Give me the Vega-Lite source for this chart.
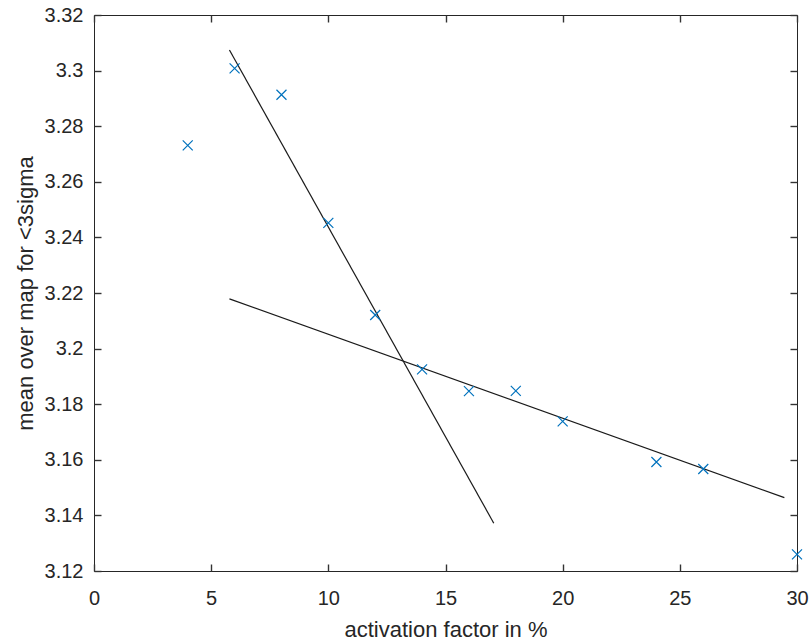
{
  "$schema": "https://vega.github.io/schema/vega-lite/v6.json",
  "width": 703,
  "height": 556,
  "autosize": {"type": "none"},
  "padding": {"left": 94, "top": 15, "right": 14, "bottom": 72},
  "background": "white",
  "datasets": {
    "pts": [
      {"x": 4, "y": 3.2731},
      {"x": 6, "y": 3.3008},
      {"x": 8, "y": 3.2913},
      {"x": 10, "y": 3.2452},
      {"x": 12, "y": 3.2121},
      {"x": 14, "y": 3.1925},
      {"x": 16, "y": 3.1847},
      {"x": 18, "y": 3.1848},
      {"x": 20, "y": 3.1738},
      {"x": 24, "y": 3.1592},
      {"x": 26, "y": 3.1567},
      {"x": 30, "y": 3.126}
    ],
    "fits": [
      {"line": "a", "x": 5.78, "y": 3.3074},
      {"line": "a", "x": 17.06, "y": 3.1372},
      {"line": "b", "x": 5.78, "y": 3.2179},
      {"line": "b", "x": 29.46, "y": 3.1464}
    ]
  },
  "layer": [
    {
      "data": {"name": "fits"},
      "mark": {"type": "line", "color": "#1a1a1a", "strokeWidth": 1.2},
      "encoding": {
        "x": {
          "field": "x", "type": "quantitative",
          "scale": {"domain": [0, 30], "nice": false, "zero": false},
          "axis": {"orient": "top", "labels": false, "title": null, "domain": false, "values": [0, 5, 10, 15, 20, 25, 30], "tickSize": 7, "offset": -7, "tickWidth": 1.4, "tickColor": "#333333"}
        },
        "y": {
          "field": "y", "type": "quantitative",
          "scale": {"domain": [3.12, 3.32], "nice": false, "zero": false},
          "axis": {"orient": "right", "labels": false, "title": null, "domain": false, "values": [3.12, 3.14, 3.16, 3.18, 3.2, 3.22, 3.24, 3.26, 3.28, 3.3, 3.32], "tickSize": 7, "offset": -7, "tickWidth": 1.4, "tickColor": "#333333"}
        },
        "detail": {"field": "line"}
      }
    },
    {
      "data": {"name": "pts"},
      "mark": {"type": "point", "shape": "M-1,-1L1,1M-1,1L1,-1", "filled": false, "color": "#0072BD", "strokeWidth": 1.2, "size": 100, "opacity": 0},
      "encoding": {
        "x": {
          "field": "x", "type": "quantitative",
          "scale": {"domain": [0, 30], "nice": false, "zero": false},
          "axis": {"orient": "bottom", "labels": false, "title": null, "domain": false, "values": [0, 5, 10, 15, 20, 25, 30], "tickSize": 7, "offset": -7, "tickWidth": 1.4, "tickColor": "#333333"}
        },
        "y": {
          "field": "y", "type": "quantitative",
          "scale": {"domain": [3.12, 3.32], "nice": false, "zero": false},
          "axis": {"orient": "left", "labels": false, "title": null, "domain": false, "values": [3.12, 3.14, 3.16, 3.18, 3.2, 3.22, 3.24, 3.26, 3.28, 3.3, 3.32], "tickSize": 7, "offset": -7, "tickWidth": 1.4, "tickColor": "#333333"}
        }
      }
    },
    {
      "data": {"name": "pts"},
      "mark": {"type": "point", "shape": "M-1,-1L1,1M-1,1L1,-1", "filled": false, "color": "#0072BD", "strokeWidth": 1.2, "size": 100, "opacity": 1},
      "encoding": {
        "x": {
          "field": "x", "type": "quantitative",
          "scale": {"domain": [0, 30], "nice": false, "zero": false},
          "axis": {"orient": "bottom", "title": "activation factor in %", "domain": false, "ticks": false, "tickSize": 0, "values": [0, 5, 10, 15, 20, 25, 30], "labelPadding": 17, "titleX": 351.5, "titleY": 58, "titleBaseline": "middle"}
        },
        "y": {
          "field": "y", "type": "quantitative",
          "scale": {"domain": [3.12, 3.32], "nice": false, "zero": false},
          "axis": {"orient": "left", "title": "mean over map for <3sigma", "domain": false, "ticks": false, "tickSize": 0, "values": [3.12, 3.14, 3.16, 3.18, 3.2, 3.22, 3.24, 3.26, 3.28, 3.3, 3.32], "format": "~g", "labelPadding": 11, "titleX": -69, "titleY": 278, "titleAngle": -90, "titleBaseline": "middle", "titleAlign": "center"}
        }
      }
    }
  ],
  "resolve": {"axis": {"x": "independent", "y": "independent"}},
  "config": {
    "font": "Liberation Sans",
    "view": {"stroke": "#262626", "strokeWidth": 1},
    "axis": {
      "grid": false,
      "domainColor": "#262626",
      "labelColor": "#262626",
      "titleColor": "#262626",
      "labelFontSize": 20,
      "titleFontSize": 22,
      "titleFontWeight": "normal",
      "domainWidth": 1,
      "labelFlush": false,
      "labelOverlap": false
    }
  }
}
